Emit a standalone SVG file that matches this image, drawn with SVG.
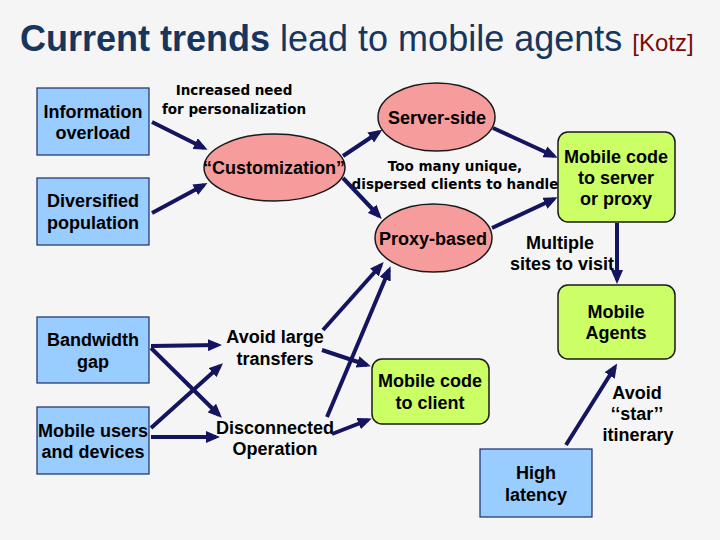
<svg xmlns="http://www.w3.org/2000/svg" width="720" height="540" viewBox="0 0 720 540">
<defs>
<marker id="ah" markerUnits="userSpaceOnUse" markerWidth="14" markerHeight="12" viewBox="0 0 14 12" refX="10" refY="6" orient="auto"><path d="M0,0 L14,6 L0,12 z" fill="#14145f"/></marker>
<style>
.bx{fill:#99ccff;stroke:#1c2c6c;stroke-width:1.2}
.el{fill:#f79c9c;stroke:#1a1a1a;stroke-width:1.5}
.gr{fill:#ccff66;stroke:#1a1a1a;stroke-width:1.5}
.t{font-family:"Liberation Sans",Arial,sans-serif;font-weight:bold;font-size:18px;fill:#000;text-anchor:middle}
.v{font-family:"DejaVu Sans",Verdana,sans-serif;font-weight:bold;font-size:13.5px;fill:#000;text-anchor:middle}
.c line{stroke:#14145f;stroke-width:4;marker-end:url(#ah)}
</style>
</defs>
<rect x="0" y="0" width="720" height="540" fill="#f5f5f5"/>
<text x="20" y="51" font-family="'Liberation Sans',Arial,sans-serif" font-size="36" fill="#17365d"><tspan font-weight="bold">Current trends</tspan> lead to mobile agents <tspan font-size="24" fill="#7a0a0a">[Kotz]</tspan></text>

<g id="n-info"><rect class="bx" x="37" y="88" width="112" height="67"/><text class="t" x="93" y="118">Information</text><text class="t" x="93" y="139">overload</text></g>
<g id="n-div"><rect class="bx" x="37" y="178" width="112" height="67"/><text class="t" x="93" y="207">Diversified</text><text class="t" x="93" y="229">population</text></g>
<g id="n-bw"><rect class="bx" x="37" y="317" width="112" height="66"/><text class="t" x="93" y="346">Bandwidth</text><text class="t" x="93" y="368">gap</text></g>
<g id="n-mu"><rect class="bx" x="37" y="407" width="112" height="67"/><text class="t" x="93" y="437">Mobile users</text><text class="t" x="93" y="458">and devices</text></g>
<g id="n-hl"><rect class="bx" x="480" y="449" width="112" height="68"/><text class="t" x="536" y="479">High</text><text class="t" x="536" y="501">latency</text></g>

<g id="n-cust"><ellipse class="el" cx="274.5" cy="167.5" rx="70.5" ry="33.5"/><text class="t" x="274" y="174">“Customization”</text></g>
<g id="n-ss"><ellipse class="el" cx="436.5" cy="117" rx="58.5" ry="34"/><text class="t" x="437" y="124">Server-side</text></g>
<g id="n-pb"><ellipse class="el" cx="433.5" cy="238" rx="58.5" ry="34"/><text class="t" x="433" y="245">Proxy-based</text></g>

<g id="n-mcs"><rect class="gr" x="558" y="132" width="117" height="90" rx="10"/><text class="t" x="616" y="163">Mobile code</text><text class="t" x="616" y="184">to server</text><text class="t" x="616" y="205">or proxy</text></g>
<g id="n-ma"><rect class="gr" x="558" y="285" width="117" height="74" rx="10"/><text class="t" x="616" y="318">Mobile</text><text class="t" x="616" y="339">Agents</text></g>
<g id="n-mcc"><rect class="gr" x="372" y="359" width="117" height="65" rx="10"/><text class="t" x="430" y="387">Mobile code</text><text class="t" x="430" y="409">to client</text></g>

<g id="n-alt"><text class="t" x="275" y="343">Avoid large</text><text class="t" x="275" y="365">transfers</text></g>
<g id="n-dis"><text class="t" x="275" y="434">Disconnected</text><text class="t" x="275" y="455">Operation</text></g>

<g id="labels">
<text class="v" x="234" y="95">Increased need</text>
<text class="v" x="234" y="114">for personalization</text>
<text class="v" x="455" y="171">Too many unique,</text>
<text class="v" x="455" y="189">dispersed clients to handle</text>
<text class="t" x="560" y="249">Multiple</text>
<text class="t" x="562" y="270">sites to visit</text>
<text class="t" x="637" y="399">Avoid</text>
<text class="t" x="637" y="420">‘‘star’’</text>
<text class="t" x="638" y="441">itinerary</text>
</g>

<g id="connectors" class="c">
<line x1="152" y1="122" x2="204" y2="148"/>
<line x1="152" y1="213" x2="204" y2="185"/>
<line x1="343" y1="156" x2="379" y2="132"/>
<line x1="343" y1="178" x2="379" y2="216"/>
<line x1="493" y1="128" x2="554" y2="156"/>
<line x1="492" y1="228" x2="554" y2="199"/>
<line x1="617" y1="223" x2="617" y2="280"/>
<line x1="151" y1="346" x2="218" y2="345"/>
<line x1="151" y1="348" x2="219" y2="415"/>
<line x1="151" y1="428" x2="220" y2="366"/>
<line x1="151" y1="437" x2="216" y2="437"/>
<line x1="323" y1="330" x2="381" y2="265"/>
<line x1="327" y1="417" x2="389" y2="270"/>
<line x1="322" y1="350" x2="367" y2="365"/>
<line x1="332" y1="434" x2="368" y2="420"/>
<line x1="566" y1="445" x2="615" y2="367"/>
</g>
</svg>
